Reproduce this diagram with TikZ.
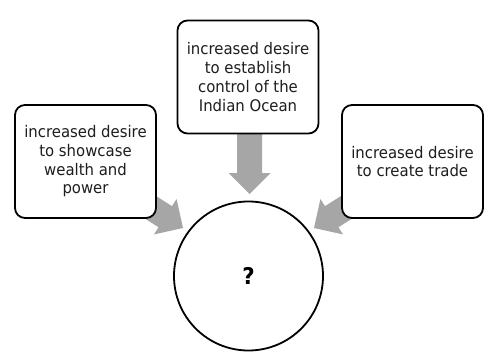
\documentclass[tikz,border=0pt]{standalone}
\usepackage{fontspec}
\newfontfamily\boxfont{DejaVu Sans}[FakeStretch=0.93]
\definecolor{arrowgray}{RGB}{166,166,166}
\definecolor{textgray}{RGB}{30,30,30}
\tikzset{
  box/.style={draw=black, line width=1.8pt, rounded corners=10pt, fill=white,
    minimum width=141pt, minimum height=113pt, inner sep=0pt,
    align=center, text=textgray, font=\boxfont\fontsize{16pt}{18.7pt}\selectfont},
  answer/.style={draw=black, line width=1.8pt, circle, fill=white, minimum size=149pt,
    inner sep=0pt, font=\boxfont\bfseries\fontsize{23pt}{26pt}\selectfont},
  blockarr/.pic={
    \fill[arrowgray] (-#1,-12.5) -- (-21,-12.5) -- (-21,-21) -- (0,0)
      -- (-21,21) -- (-21,12.5) -- (-#1,12.5) -- cycle;
  }
}
\begin{document}
\begin{tikzpicture}[x=1pt,y=-1pt]
\useasboundingbox (0,0) rectangle (499,356);
\fill[white] (0,0) rectangle (499,356);
% arrow tips
\coordinate (tipL) at (183,228);
\coordinate (tipT) at (249.5,194);
\coordinate (tipR) at (314,228);
\pic[rotate=-32.5] at (tipL) {blockarr=60};
\pic[rotate=-90] at (tipT) {blockarr=70};
\pic[rotate=212.5] at (tipR) {blockarr=60};
% boxes
\node[box] (top) at (248,77) {increased desire\\to establish\\control of the\\Indian Ocean};
\node[box] (left) at (85.5,161.5) {increased desire\\to showcase\\wealth and\\power};
\node[box] (right) at (412.5,161.5) {increased desire\\to create trade};
\node[answer] (center) at (248.5,276) {?};
\end{tikzpicture}
\end{document}
